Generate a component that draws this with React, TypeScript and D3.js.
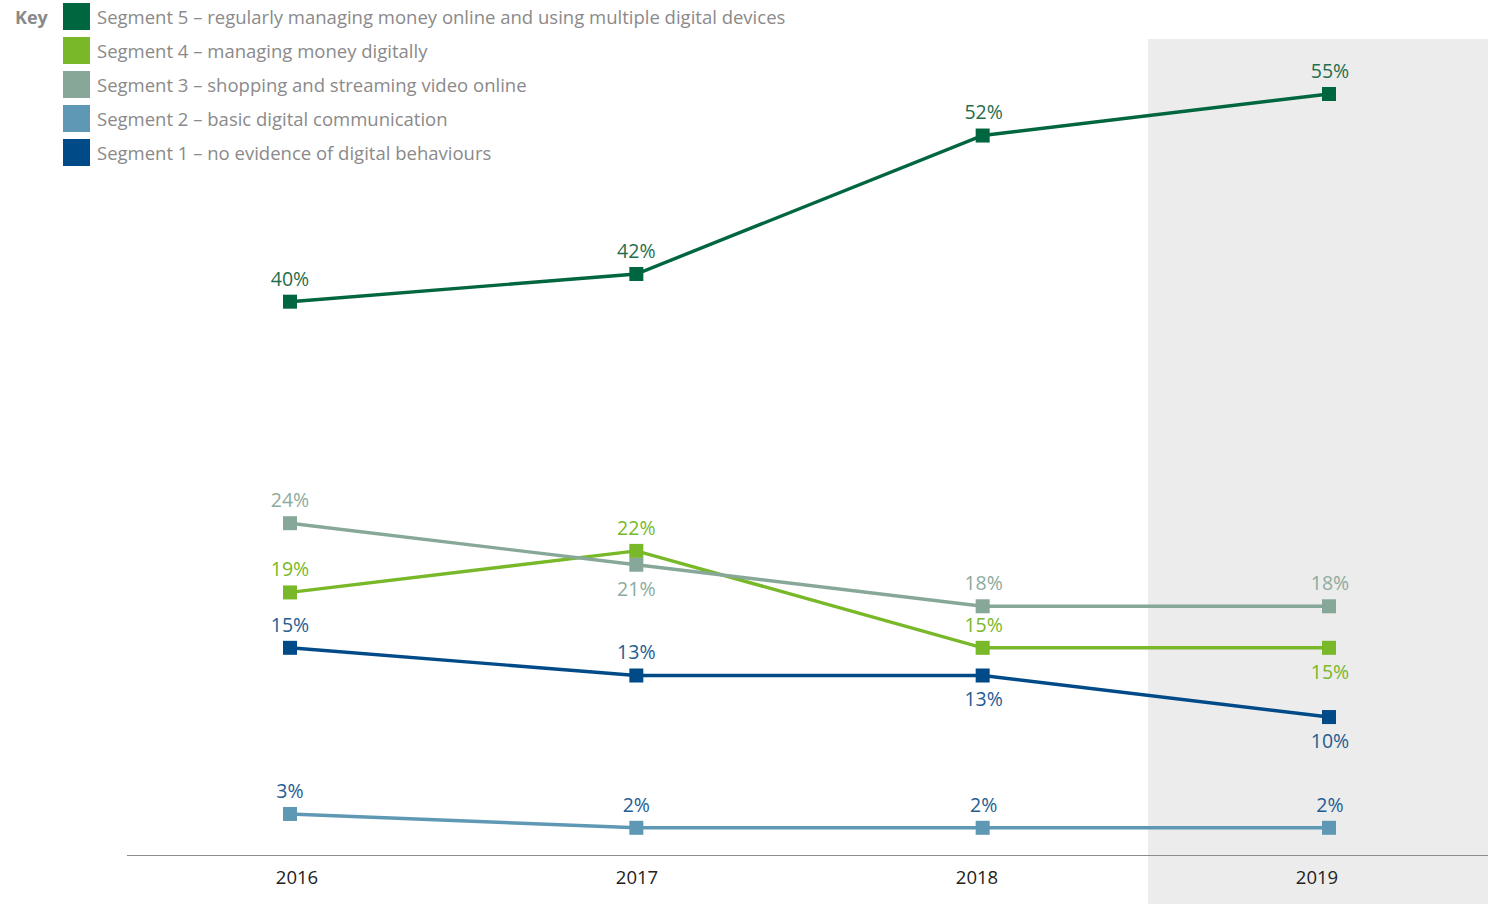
import React from 'react';
import * as d3 from 'd3';

const years = ['2016', '2017', '2018', '2019'];

const seriesNames = [
  'Segment 5 – regularly managing money online and using multiple digital devices',
  'Segment 4 – managing money digitally',
  'Segment 3 – shopping and streaming video online',
  'Segment 2 – basic digital communication',
  'Segment 1 – no evidence of digital behaviours',
];

const seg5 = [40, 42, 52, 55];
const seg4 = [19, 22, 15, 15];
const seg3 = [24, 21, 18, 18];
const seg2 = [3, 2, 2, 2];
const seg1 = [15, 13, 13, 10];

// where each value label sits: 1 = above the marker, -1 = below
const seg5Side = [1, 1, 1, 1];
const seg4Side = [1, 1, 1, -1];
const seg3Side = [1, -1, 1, 1];
const seg2Side = [1, 1, 1, 1];
const seg1Side = [1, 1, -1, -1];

const lineColors = ['#00663f', '#78b829', '#87a798', '#5f98b4', '#004b87'];
const labelColors = ['#1f6e4c', '#78b829', '#8cab9d', '#245d92', '#245d92'];

const W = 1493;
const H = 904;
const FONT = '"Open Sans", "Noto Sans", sans-serif';

const App = () => {
  const series = [seg5, seg4, seg3, seg2, seg1].map((values, i) => ({
    name: seriesNames[i],
    values,
    side: [seg5Side, seg4Side, seg3Side, seg2Side, seg1Side][i],
    color: lineColors[i],
    labelColor: labelColors[i],
  }));

  const x = d3.scalePoint().domain(years).range([290, 1329]);
  const xTick = d3.scalePoint().domain(years).range([297, 1317]);
  const y = d3.scaleLinear().domain([0, 55]).range([855.5, 94]);

  const line = d3.line<number>()
    .x((_, i) => x(years[i]) as number)
    .y(d => y(d));

  const drawOrder = [4, 3, 1, 2, 0];
  const m = 14;

  return (
    <div style={{ position: 'absolute', left: 0, top: 0 }}>
      <svg width={W} height={H} style={{ display: 'block', fontFamily: FONT }}>
        <rect x={1148} y={39} width={340} height={H - 39} fill="#ececec" />
        <line x1={127} x2={1488} y1={y(0)} y2={y(0)} stroke="#8c8c8c" strokeWidth={1.2} />
        {years.map(yr => (
          <text key={yr} x={xTick(yr)} y={878} dy="0.35em" textAnchor="middle"
            fontSize={18.5} fill="#222">{yr}</text>
        ))}

        {drawOrder.map(si => {
          const s = series[si];
          return (
            <g key={s.name}>
              <path d={line(s.values) || ''} fill="none" stroke={s.color} strokeWidth={3.4} />
              {s.values.map((v, i) => (
                <rect key={i} x={(x(years[i]) as number) - m / 2} y={y(v) - m / 2}
                  width={m} height={m} fill={s.color} />
              ))}
            </g>
          );
        })}

        {series.map(s => (
          <g key={s.name + '-labels'}>
            {s.values.map((v, i) => (
              <text key={i} x={(x(years[i]) as number) + (i >= 2 ? 1 : 0)}
                y={y(v) - (s.side[i] > 0 ? 23 : -24)} dy="0.35em" textAnchor="middle"
                fontSize={19.5} fill={s.labelColor}>{v}%</text>
            ))}
          </g>
        ))}

        <text x={15} y={18} dy="0.35em" fontSize={18} fontWeight={700} fill="#8a8a8a">Key</text>
        {series.map((s, i) => (
          <g key={s.name + '-key'} transform={`translate(63,${3 + i * 34})`}>
            <rect width={27} height={27} fill={s.color} />
            <text x={34} y={14.5} dy="0.35em" fontSize={18.5} fill="#8a8a8a">{s.name}</text>
          </g>
        ))}
      </svg>
    </div>
  );
};

export default App;
